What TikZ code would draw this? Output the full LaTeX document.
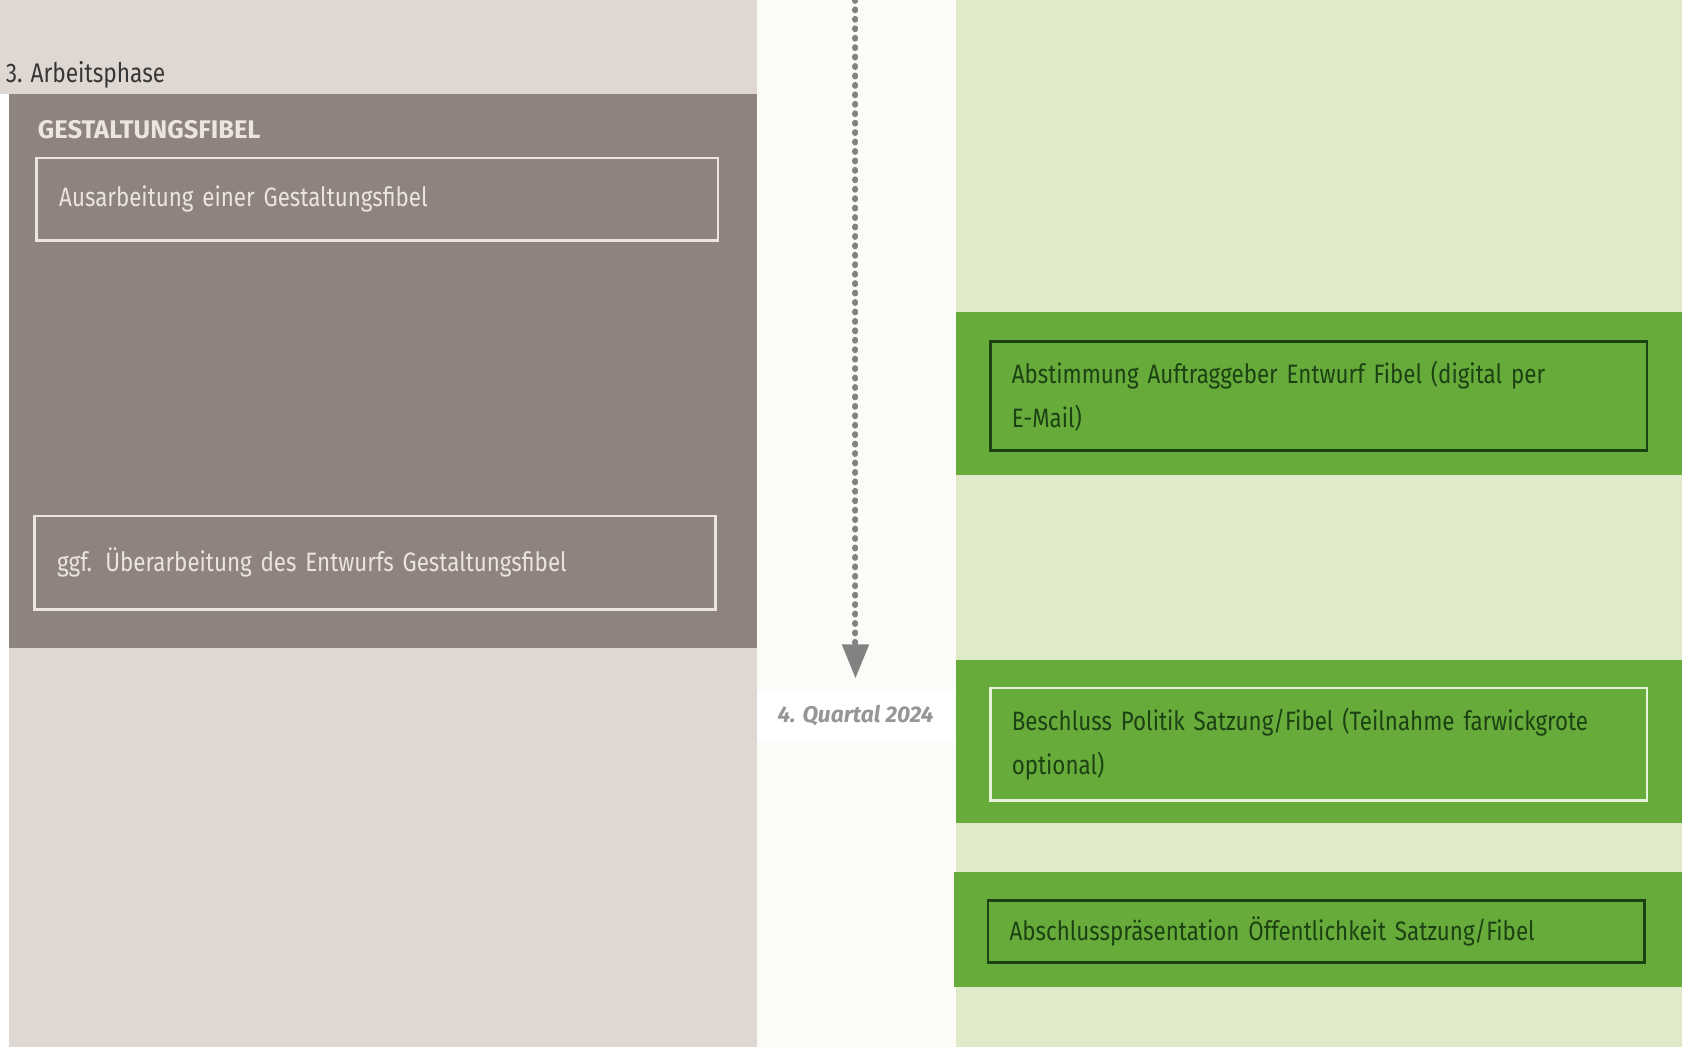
\documentclass[tikz,border=0pt]{standalone}
\usepackage{fontspec}
\setmainfont[FakeStretch=0.84]{Fira Sans}
\newfontfamily\quartalfont{Fira Sans}
\usetikzlibrary{arrows.meta,positioning}

\definecolor{phasebeige}{RGB}{223,216,210}
\definecolor{fibelgray}{RGB}{142,131,127}
\definecolor{fibelline}{RGB}{236,228,222}
\definecolor{midwhite}{RGB}{252,251,248}
\definecolor{lightgreen}{RGB}{223,234,201}
\definecolor{bandgreen}{RGB}{103,171,59}
\definecolor{darkgreen}{RGB}{28,66,20}
\definecolor{palegreen}{RGB}{228,242,214}
\definecolor{arrowgray}{RGB}{130,130,130}
\definecolor{quartalgray}{RGB}{150,150,150}
\definecolor{labeldark}{RGB}{55,55,55}

\tikzset{
  taskbox/.style={draw,line width=1.2pt,anchor=north west,align=left,
    inner xsep=10pt,inner ysep=0pt,text width=286pt,
    font=\fontsize{12.4}{20.5}\selectfont},
  graytask/.style={taskbox,draw=fibelline,text=fibelline,inner xsep=10.5pt,text width=296.5pt},
  greentask/.style={taskbox,draw=darkgreen,text=darkgreen},
}

\begin{document}
\begin{tikzpicture}[x=0.5pt,y=-0.5pt]
\useasboundingbox (0,0) rectangle (1568,976);
% Spalten
\fill[white] (0,0) rectangle (1568,976);
\fill[phasebeige] (0,0) rectangle (706,88);
\fill[phasebeige] (8,88) rectangle (706,976);
\fill[midwhite] (706,0) rectangle (891,976);
\fill[lightgreen] (891,0) rectangle (1568,976);

% linke Spalte
\node[anchor=west,inner sep=0pt,text=labeldark,font=\fontsize{12.6}{14}\selectfont] (phase) at (5,70) {3. Arbeitsphase};
\fill[fibelgray] (8,88) rectangle (706,604);
\node[anchor=west,inner sep=0pt,text=fibelline,font=\quartalfont\fontsize{11.9}{14}\selectfont\bfseries] (fibel) at (35,121) {GESTALTUNGSFIBEL};
\node[graytask,minimum height=38.5pt] (ausarbeitung) at (33,146) {Ausarbeitung einer Gestaltungsfibel};
\node[graytask,minimum height=43.5pt] (ueberarbeitung) at (31,480) {ggf. Überarbeitung des Entwurfs Gestaltungsfibel};

% rechte Spalte
\fill[bandgreen] (891,291) rectangle (1568,443);
\fill[bandgreen] (891,615) rectangle (1568,767);
\fill[bandgreen] (889,813) rectangle (1568,920);
\node[greentask,minimum height=51pt] (abstimmung) at (922,317) {Abstimmung Auftraggeber Entwurf Fibel (digital per\\E-Mail)};
\node[greentask,draw=palegreen,minimum height=52.5pt] (beschluss) at (922,640) {Beschluss Politik Satzung/Fibel (Teilnahme farwickgrote\\optional)};
\node[greentask,minimum height=29pt] (praesentation) at (920,838) {Abschlusspräsentation Öffentlichkeit Satzung/Fibel};

% Zeitachse
\node[fill=white,minimum width=91.5pt,minimum height=22.5pt,inner sep=0pt,text=quartalgray,
  font=\quartalfont\fontsize{10.6}{12}\selectfont\bfseries\itshape] (quartal) at (797.5,667.5) {4. Quartal 2024};
\coordinate (zeitstart) at (797.5,0);
\draw[arrowgray,line width=2.8pt,line cap=round,dash pattern=on 0.4pt off 4pt,
  -{Triangle[width=12pt,length=16pt]}] (zeitstart) -- ([yshift=6pt]quartal.north);
\end{tikzpicture}
\end{document}
